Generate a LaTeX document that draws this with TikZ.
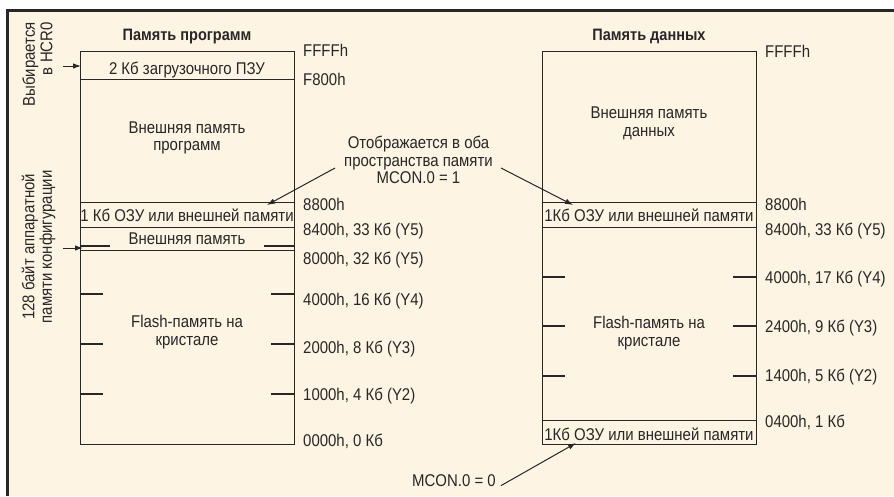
\documentclass[tikz,border=0pt]{standalone}
\usepackage{fontspec}
\setmainfont{Liberation Sans}[FakeStretch=0.88]
\usetikzlibrary{arrows.meta}
\definecolor{bg}{RGB}{253,244,227}
\definecolor{ink}{RGB}{40,38,38}
\begin{document}
\begin{tikzpicture}[x=1pt,y=-1pt,
  font=\fontsize{17}{17.5}\selectfont, text=ink,
  mem/.style={draw=ink, line width=1.3pt, minimum width=214pt, inner sep=0pt, anchor=north west},
  tick/.style={draw=ink, line width=1.3pt},
  lab/.style={anchor=base west, inner sep=0pt},
  ctr/.style={anchor=base, inner sep=0pt},
  blk/.style={align=center, inner sep=0pt},
  ttl/.style={anchor=base, inner sep=0pt, font=\fontsize{16.5}{16.5}\selectfont\bfseries},
  arr/.style={draw=ink, line width=1pt, -{Latex[length=8pt,width=5.5pt]}}]
\useasboundingbox (0,0) rectangle (894,496);
\fill[bg] (7,10) rectangle (894,496);
\draw[ink, line width=3pt] (7,496) -- (7,10) -- (894,10);

% ---- program memory ----
\node[ttl] (tp) at (187,40) {Память программ};
\node[mem, minimum height=28pt]  (rom)    at (80,51)  {};
\node[mem, minimum height=123pt] (extp)   at (80,79)  {};
\node[mem, minimum height=25pt]  (ramp)   at (80,202) {};
\node[mem, minimum height=23pt]  (extp2)  at (80,227) {};
\node[mem, minimum height=194pt] (flashp) at (80,250) {};
\draw[tick] (80,246) -- (110,246) (264,246) -- (294,246);
\foreach \yy in {294,344,394}{\draw[tick] (80,\yy) -- (103,\yy) (271,\yy) -- (294,\yy);}
\node[ctr] (romt)  at (187,74)  {2 Кб загрузочного ПЗУ};
\node[blk] (extpt) at (187,138) {Внешняя память\\программ};
\node[ctr] (rampt) at (187,221.5) {1 Кб ОЗУ или внешней памяти};
\node[ctr] (ext2t) at (187,244.5) {Внешняя память};
\node[blk] (flpt)  at (187,332) {Flash-память на\\кристале};

\node[lab] (a1) at (303,56)    {FFFFh};
\node[lab] (a2) at (303,85)    {F800h};
\node[lab] (a3) at (303,210.5) {8800h};
\node[lab] (a4) at (303,235)   {8400h, 33 Кб (Y5)};
\node[lab] (a5) at (303,264)   {8000h, 32 Кб (Y5)};
\node[lab] (a6) at (303,305)   {4000h, 16 Кб (Y4)};
\node[lab] (a7) at (303,353)   {2000h, 8 Кб (Y3)};
\node[lab] (a8) at (303,400.5) {1000h, 4 Кб (Y2)};
\node[lab] (a9) at (303,446.5) {0000h, 0 Кб};

% ---- data memory ----
\node[ttl] (td) at (649,40) {Память данных};
\node[mem, minimum height=151pt] (extd)   at (542,51)  {};
\node[mem, minimum height=25pt]  (ramd)   at (542,202) {};
\node[mem, minimum height=193pt] (flashd) at (542,227) {};
\node[mem, minimum height=24pt]  (ramd0)  at (542,420) {};
\foreach \yy in {277,326,376}{\draw[tick] (542,\yy) -- (565,\yy) (733,\yy) -- (756,\yy);}
\node[blk] (extdt)  at (649,123.5) {Внешняя память\\данных};
\node[ctr] (ramdt)  at (649,221.5) {1Кб ОЗУ или внешней памяти};
\node[blk] (fldt)   at (649,333)   {Flash-память на\\кристале};
\node[ctr] (ramd0t) at (649,440)   {1Кб ОЗУ или внешней памяти};

\node[lab] (b1) at (765,57)  {FFFFh};
\node[lab] (b2) at (765,210) {8800h};
\node[lab] (b3) at (765,235) {8400h, 33 Кб (Y5)};
\node[lab] (b4) at (765,283) {4000h, 17 Кб (Y4)};
\node[lab] (b5) at (765,332) {2400h, 9 Кб (Y3)};
\node[lab] (b6) at (765,381) {1400h, 5 Кб (Y2)};
\node[lab] (b7) at (765,427) {0400h, 1 Кб};

% ---- annotations ----
\node[blk] (ann) at (418.5,160) {Отображается в оба\\пространства памяти\\MCON.0 = 1};
\coordinate (tipL) at (267,205);
\coordinate (tipR) at (573,205);
\draw[arr] ([xshift=-9pt,yshift=-8pt]ann.west) -- (tipL);
\draw[arr] ([xshift=8pt,yshift=-8pt]ann.east) -- (tipR);

\node[lab] (m0) at (412,486.5) {MCON.0 = 0};
\coordinate (tip0) at (576,443);
\draw[arr] ([xshift=5pt,yshift=-5pt]m0.east) -- (tip0);

\node[rotate=90, anchor=east, align=right, inner sep=0pt] (sel) at (37.5,22) {Выбирается\\в HCR0};
\coordinate (tipS) at (81,66);
\draw[arr] (63,66) -- (tipS);

\node[rotate=90, align=center, inner sep=0pt] (cfg) at (38.5,247) {128 байт аппаратной\\памяти конфигурации};
\coordinate (tipC) at (83,248);
\draw[arr] (63,248) -- (tipC);
\end{tikzpicture}
\end{document}
